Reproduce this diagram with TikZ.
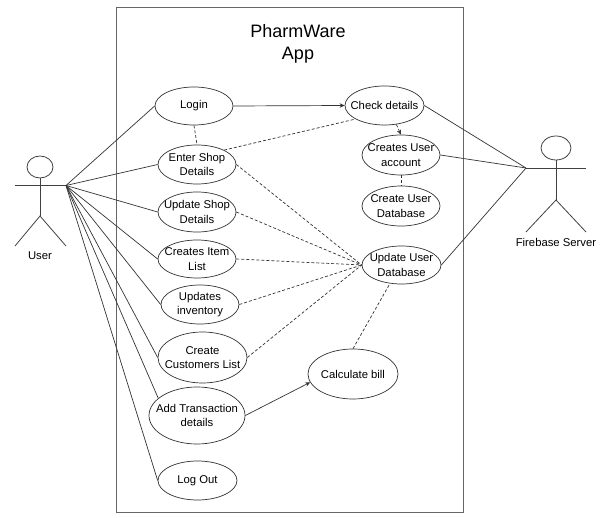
\documentclass[tikz,border=0pt]{standalone}
\usepackage{fontspec}
\setmainfont{Liberation Sans}
\usetikzlibrary{shapes.geometric,arrows.meta}
\tikzset{
    usecase/.style={draw=black!80,line width=0.7pt,ellipse,inner xsep=-16pt,inner ysep=-9pt,align=center,font=\fontsize{11.3}{14.5}\selectfont},
    actorlabel/.style={align=center,font=\fontsize{11.3}{14}\selectfont},
    assoc/.style={draw=black!80,line width=0.7pt},
    incl/.style={draw=black!80,line width=0.7pt,densely dashed},
    flow/.style={draw=black!80,line width=0.7pt,-{Stealth[length=5pt,width=4.5pt]}}
}

\begin{document}
\begin{tikzpicture}[x=1pt,y=-1pt,line width=0.8pt,draw=black!75]
    \useasboundingbox (0,0) rectangle (600,518);
    % app boundary
    \node[draw=black!60,line width=1pt,minimum width=347pt,minimum height=504pt,inner sep=0pt] (app) at (289.5,260) {};
    \node[align=center,font=\fontsize{18}{22}\selectfont] (title) at (298,43.5) {PharmWare\\App};

    % left column
    \node[usecase,minimum width=78pt,minimum height=38pt] (login) at (194,106) {Login};
    \node[usecase,minimum width=78pt,minimum height=39pt] (enter) at (197,164.5) {Enter Shop\\Details};
    \node[usecase,minimum width=78pt,minimum height=40pt] (updshop) at (197,212) {Update Shop\\Details};
    \node[usecase,minimum width=78pt,minimum height=38pt] (items) at (197,259) {Creates Item\\List};
    \node[usecase,minimum width=78pt,minimum height=39pt] (inventory) at (200,304.5) {Updates\\inventory};
    \node[usecase,minimum width=89pt,minimum height=51pt] (customers) at (202.5,357.5) {Create\\Customers List};
    \node[usecase,minimum width=96pt,minimum height=57pt] (transaction) at (197,415.5) {Add Transaction\\details};
    \node[usecase,minimum width=79pt,minimum height=39pt] (logout) at (197.5,480.5) {Log Out};

    % right column
    \node[usecase,minimum width=79pt,minimum height=39pt] (check) at (384.5,105.5) {Check details};
    \node[usecase,minimum width=78pt,minimum height=40pt] (account) at (401,155) {Creates User\\account};
    \node[usecase,minimum width=78pt,minimum height=40pt] (userdb) at (401,206) {Create User\\Database};
    \node[usecase,minimum width=79pt,minimum height=38pt] (upddb) at (401.5,265) {Update User\\Database};
    \node[usecase,minimum width=90pt,minimum height=50pt] (bill) at (353,374) {Calculate bill};

    % user
    \node[draw,ellipse,inner sep=0pt,minimum width=26pt,minimum height=22pt] (userhead) at (40,167) {};
    \coordinate (userhand) at (66,185.5);
    \coordinate (userarm) at (15,185.5);
    \coordinate (userhip) at (40,216);
    \coordinate (userlegl) at (15,246);
    \coordinate (userlegr) at (66,246);
    \node[actorlabel] (user) at (40,256) {User};
    \draw (userarm) -- (userhand);
    \draw (userhead) -- (userhip);
    \draw (userlegl) -- (userhip) -- (userlegr);

    % server
    \node[draw,ellipse,inner sep=0pt,minimum width=30pt,minimum height=24pt] (serverhead) at (556,148) {};
    \coordinate (serverhand) at (526,168);
    \coordinate (serverarm) at (586,168);
    \coordinate (serverhip) at (556,200);
    \coordinate (serverlegl) at (526,232);
    \coordinate (serverlegr) at (586,232);
    \node[actorlabel] (server) at (556,242) {Firebase Server};
    \draw (serverhand) -- (serverarm);
    \draw (serverhead) -- (serverhip);
    \draw (serverlegl) -- (serverhip) -- (serverlegr);

    % associations
    \foreach \n in {login,enter,updshop,items,inventory,customers,logout}
        \draw[assoc] (userhand) -- (\n.west);
    \draw[assoc] (userhand) -- (transaction.156);
    \foreach \n in {check,account,upddb}
        \draw[assoc] (\n.east) -- (serverhand);

    % dependencies
    \foreach \n in {enter,updshop,items,inventory,customers}
        \draw[incl] (\n.east) -- (upddb.west);
    \draw[incl] (bill.north) -- (upddb.238);
    \draw[incl] (enter.28) -- (check.205);
    \draw[incl] (login.south) -- (enter.north);
    \draw[incl] (account.south) -- (userdb.north);

    \draw[flow] (login.east) -- (check.west);
    \draw[flow] (transaction.east) -- (bill.191);
    \draw[flow,densely dashed] (check.-58) -- (account.north);
\end{tikzpicture}
\end{document}
